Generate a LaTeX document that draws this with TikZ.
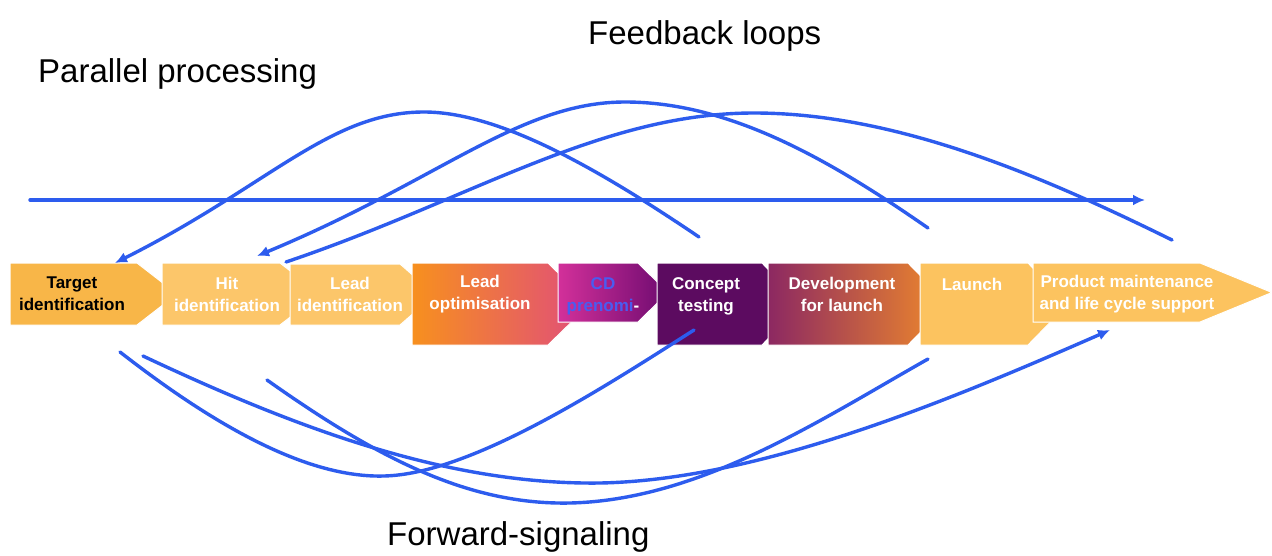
\documentclass[tikz,border=0pt]{standalone}
\usepackage{fontspec}
\setmainfont{Liberation Sans}
\usetikzlibrary{arrows.meta}
\definecolor{arrowblue}{RGB}{45,92,238}
\definecolor{cTarget}{HTML}{F8B648}
\definecolor{cLight}{HTML}{FCC66A}
\definecolor{cLaunch}{HTML}{FCC35F}
\definecolor{cOrange}{HTML}{F7901E}
\definecolor{cPink}{HTML}{E04C7C}
\definecolor{cMagenta}{HTML}{D3309A}
\definecolor{cPurple}{HTML}{6E0B70}
\definecolor{cConcept}{HTML}{5C0B60}
\definecolor{cDevL}{HTML}{8C2862}
\definecolor{cDevR}{HTML}{F08A2A}
\definecolor{cdblue}{HTML}{4A5CF0}
\newcommand\chevbox[6]{% style, x0, x1, tip depth, ytop, ybot
  \path[#1] (#2,#5) -- (#3,#5) -- ({#3+#4},{(#5+#6)/2}) -- (#3,#6) -- (#2,#6) -- cycle;}
\tikzset{
  boxedge/.style={draw=white, line width=1pt},
  lbl/.style={inner sep=0pt, align=center, text=white,
    font=\fontsize{17}{22}\selectfont\bfseries},
  title/.style={inner sep=0pt, anchor=base west,
    font=\fontsize{33}{36}\selectfont},
  flow/.style={draw=arrowblue, line width=3.4pt, line cap=round},
  head/.style={-{Latex[length=12pt,width=11pt]}}
}
\begin{document}
\begin{tikzpicture}[x=1pt, y=-1pt]
\useasboundingbox (0,0) rectangle (1272,555);
\fill[white] (0,0) rectangle (1272,555);

% titles
\node[title] (tFeed) at (588,44) {Feedback loops};
\node[title] (tPar) at (38,82) {Parallel processing};
\node[title] (tFwd) at (387,545) {Forward-signaling};

% process chevrons (left to right, each covering the previous tip)
\chevbox{fill=cTarget, boxedge}{10}{137}{40}{263}{325}
\chevbox{fill=cLight, boxedge}{162}{280}{40}{263}{325}
\chevbox{fill=cLight, boxedge}{290}{400}{35}{264}{325}
\chevbox{left color=cOrange, right color=cPink, boxedge}{412}{548}{42}{263}{345}
\chevbox{left color=cMagenta, right color=cPurple, boxedge}{558}{638}{30}{263}{322}
\chevbox{fill=cConcept, boxedge}{657}{762}{40}{263}{345}
\chevbox{left color=cDevL, right color=cDevR, boxedge}{768}{908}{40}{263}{345}
\chevbox{fill=cLaunch, boxedge}{920}{1028}{40}{263}{345}
\chevbox{fill=cLaunch, boxedge}{1033}{1200}{72}{263}{322}

% labels
\node[lbl, text=black] (nTarget) at (72,294) {Target\\identification};
\node[lbl] (nHit) at (227,294) {Hit\\identification};
\node[lbl] (nLeadId) at (350,294) {Lead\\identification};
\node[lbl] (nLeadOpt) at (480,294) {Lead\\optimisation};
\node[lbl, text=cdblue] (nCD) at (603,296) {CD\\prenomi\textcolor{white}{-}};
\node[lbl] (nConcept) at (706,296) {Concept\\testing};
\node[lbl] (nDev) at (842,294) {Development\\for launch};
\node[lbl] (nLaunch) at (972,284) {Launch};
\node[lbl] (nProd) at (1127,294) {Product maintenance\\and life cycle support};

% connector end points
\coordinate (pS) at (30,200);
\coordinate (pE) at (1145,200);
\coordinate (f1s) at (699,237);
\coordinate (f1e) at (115,263);
\coordinate (f2s) at (928,228);
\coordinate (f2e) at (257,256);
\coordinate (f3s) at (1172,240);
\coordinate (f3e) at (286,262);
\coordinate (b1s) at (120,352);
\coordinate (b1e) at (694,330);
\coordinate (b2s) at (143,356);
\coordinate (b2e) at (1110,330);
\coordinate (b3s) at (267,380);
\coordinate (b3e) at (928,359);

% parallel processing
\draw[flow, head] (pS) -- (pE);

% feedback loops
\draw[flow, head] (f1s) .. controls (600,170) and (500,112) .. (424,112)
  .. controls (330,112) and (270,185) .. (f1e);
\draw[flow, head] (f2s) .. controls (830,160) and (730,102) .. (625,102)
  .. controls (520,102) and (440,180) .. (f2e);
\draw[flow] (f3s) .. controls (1050,180) and (900,113) .. (754,113)
  .. controls (600,113) and (470,200) .. (f3e);

% forward signaling
\draw[flow] (b1s) .. controls (220,430) and (310,478) .. (384,476)
  .. controls (470,474) and (600,390) .. (b1e);
\draw[flow, head] (b2s) .. controls (300,430) and (450,485) .. (600,483)
  .. controls (760,480) and (950,400) .. (b2e);
\draw[flow] (b3s) .. controls (380,460) and (470,505) .. (570,503)
  .. controls (700,500) and (820,420) .. (b3e);
\end{tikzpicture}
\end{document}
